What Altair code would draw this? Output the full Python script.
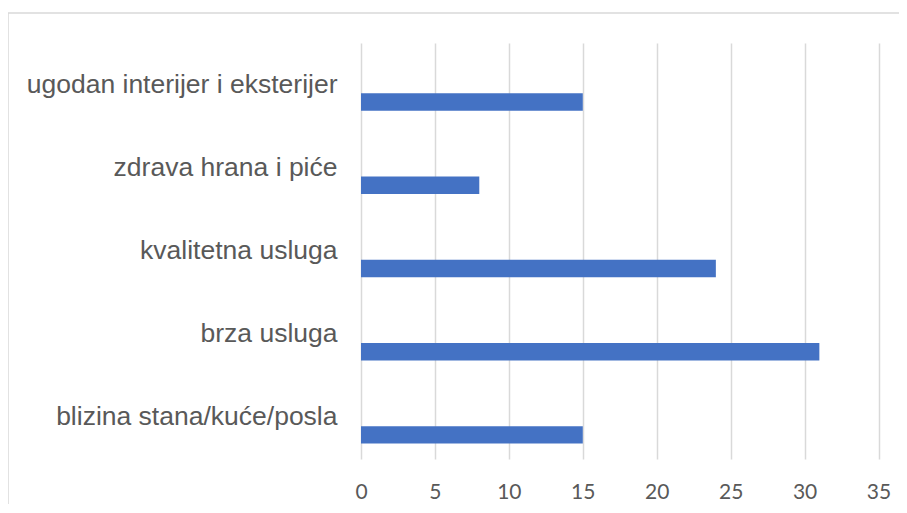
import altair as alt
import pandas as pd

categories = [
    "ugodan interijer i eksterijer",
    "zdrava hrana i piće",
    "kvalitetna usluga",
    "brza usluga",
    "blizina stana/kuće/posla",
]
values = [15, 8, 24, 31, 15]
x_ticks = [0, 5, 10, 15, 20, 25, 30, 35]

df = pd.DataFrame({"cat": categories, "val": values})

W = 517.5
H = 416
band = H / len(categories)

bars = alt.Chart(df).mark_bar(
    color="#4472C4", size=band * 0.21, yOffset=band * 0.21
).encode(
    x=alt.X(
        "val:Q",
        scale=alt.Scale(domain=[0, 35], nice=False, zero=True),
        axis=alt.Axis(
            values=x_ticks,
            title=None,
            domain=False,
            ticks=False,
            grid=True,
            gridColor="#d9d9d9",
            gridWidth=1.5,
            labelFont="Lato",
            labelFontSize=21,
            labelColor="#595959",
            labelPadding=22,
            labelFlush=False,
            labelOverlap=False,
        ),
    ),
    y=alt.Y(
        "cat:N",
        sort=categories,
        scale=alt.Scale(paddingInner=0, paddingOuter=0),
        axis=alt.Axis(
            title=None,
            domain=False,
            ticks=False,
            grid=False,
            labelFont="Liberation Sans",
            labelFontSize=26.5,
            labelColor="#595959",
            labelPadding=24,
            labelLimit=400,
        ),
    ),
)

border = alt.Chart(pd.DataFrame({"a": [0]})).mark_rect(
    fill=None, stroke="#d9d9d9", strokeWidth=1.5
).encode(
    x=alt.value(-353),
    x2=alt.value(W + 200),
    y=alt.value(-30),
    y2=alt.value(H + 200),
)

chart = (
    alt.layer(border, bars)
    .properties(
        width=W,
        height=H,
        padding={"left": 353, "top": 35, "right": 20, "bottom": 45},
        autosize=alt.AutoSizeParams(type="none"),
        background="white",
    )
    .configure_view(stroke=None)
)

chart.save("out.html", embed_options={"renderer": "svg", "actions": False})
